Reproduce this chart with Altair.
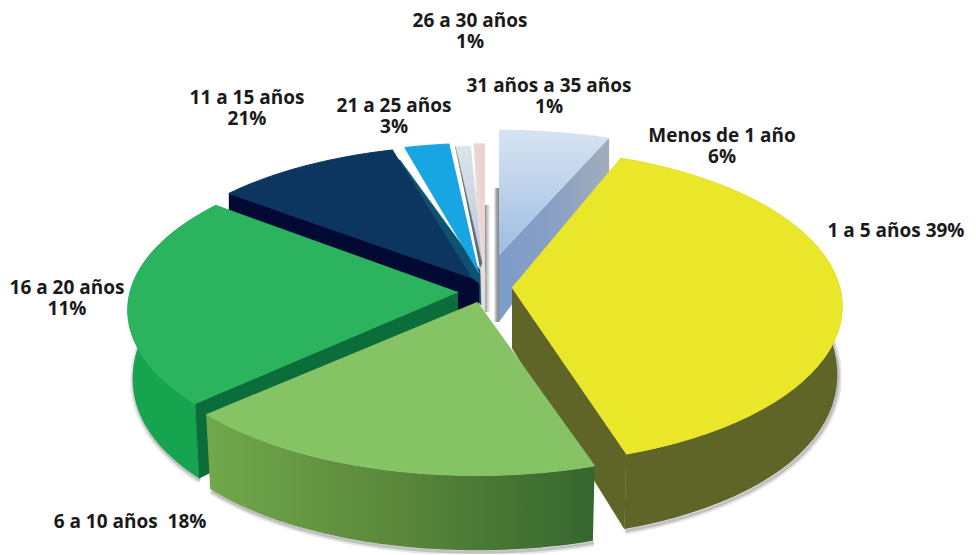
import math
import altair as alt
import pandas as pd

# Slice shares (the printed labels differ)
slices = ["Menos de 1 año", "1 a 5 años", "6 a 10 años", "16 a 20 años",
          "11 a 15 años", "21 a 25 años", "26 a 30 años", "31 a 35 años"]
shares = [6, 39, 18.2, 22.3, 10.2, 2.6, 1.0, 0.7]

# Label text, as printed
label_text = ["26 a 30 años|1%", "31 años a 35 años|1%", "21 a 25 años|3%", "11 a 15 años|21%",
              "Menos de 1 año|6%", "1 a 5 años 39%", "16 a 20 años|11%", "6 a 10 años\u00a0\u00a018%"]
label_x = [470, 549, 394, 247, 722, 896, 67, 130]
label_y = [21, 86, 106, 98, 136, 231, 288, 522]

# Apparent apex and radii of each exploded slice in the perspective view
geom = {
    "Menos de 1 año": (499, 255, 332, 140),
    "1 a 5 años": (512, 288, 328, 155),
    "6 a 10 años": (477, 302, 338, 153),
    "16 a 20 años": (458, 292, 328, 152),
    "11 a 15 años": (472, 278, 330, 148),
    "21 a 25 años": (479, 273, 310, 145),
    "26 a 30 años": (482, 263, 280, 131),
    "31 a 35 años": (485, 277, 280, 149),
}
K = 0.118

edges = [0]
for s in shares:
    edges.append(edges[-1] + s * 3.6)
span = {n: (edges[i], edges[i + 1]) for i, n in enumerate(slices)}


def depth(v):
    return 66 + 21.5 * v - 12.7 * v * v


def top(name, ang):
    ax, ay, r, ry = geom[name]
    u, v = math.sin(math.radians(ang)), -math.cos(math.radians(ang))
    s = 1 / (1 - K * v)
    return ax + r * u * s, ay + ry * v * s


def low(name, ang):
    ax, ay, r, ry = geom[name]
    v = -math.cos(math.radians(ang))
    x, y = top(name, ang)
    return ax + (x - ax) * 0.985, y + depth(v)


def arc(name, fn=top, n=48):
    a, b = span[name]
    return [fn(name, a + (b - a) * i / n) for i in range(n + 1)]


X = alt.Scale(domain=[8, 968])
Y = alt.Scale(domain=[554, 8])


def poly(points, fill, **kw):
    df = pd.DataFrame({"x": [p[0] for p in points], "y": [p[1] for p in points],
                       "i": list(range(len(points)))})
    return alt.Chart(df).mark_line(fill=fill, stroke=kw.pop("stroke", fill if isinstance(fill, str) else "transparent"),
                                   strokeWidth=kw.pop("sw", 0.5), **kw).encode(
        x=alt.X("x:Q", scale=X, axis=None), y=alt.Y("y:Q", scale=Y, axis=None), order="i:Q")


def trace(points, color, width, opacity):
    df = pd.DataFrame({"x": [p[0] for p in points], "y": [p[1] for p in points],
                       "i": list(range(len(points)))})
    return alt.Chart(df).mark_line(stroke=color, strokeWidth=width, opacity=opacity).encode(
        x=alt.X("x:Q", scale=X, axis=None), y=alt.Y("y:Q", scale=Y, axis=None), order="i:Q")


def hgrad(*stops):
    n = len(stops) - 1
    return alt.Gradient(gradient="linear", x1=0, x2=1, y1=0, y2=0,
                        stops=[alt.GradientStop(offset=i / n, color=c) for i, c in enumerate(stops)])


def vgrad(*stops):
    n = len(stops) - 1
    return alt.Gradient(gradient="linear", x1=0, x2=0, y1=0, y2=1,
                        stops=[alt.GradientStop(offset=i / n, color=c) for i, c in enumerate(stops)])


def face(name, fill):
    ax, ay = geom[name][:2]
    return poly([(ax, ay)] + arc(name), fill, sw=1.0)


def wall(name, fill, start=0.0):
    pts = arc(name)
    lows = arc(name, low)
    return poly(pts + lows[::-1], fill, stroke="transparent")


def cut(name, ang, fill):
    ax, ay = geom[name][:2]
    a, b = top(name, ang), low(name, ang)
    return poly([(ax, ay), a, b, (ax, ay + 60)], fill)


N = slices
layers = []

# soft shadows beneath the outer walls
for name in (N[1], N[2], N[3]):
    pts = [(x + 1, y + 2) for x, y in arc(name, low)]
    layers.append(trace(pts, "#777777", 7, 0.18))
    layers.append(trace(pts, "#555555", 3, 0.25))

# thin slivers in the gap behind the slices
layers.append(poly([(485, 205), (490, 205), (491, 312), (485, 312)], hgrad("#8f8f8f", "#d8d8d8", "#ffffff")))
layers.append(poly([(494, 188), (499, 188), (499, 322), (494, 322)], hgrad("#f4f4f4", "#a8a8a8", "#808080")))

# small back slices
layers.append(face(N[7], "#ecd4d3"))
layers.append(poly([top(N[7], span[N[7]][0]), (geom[N[7]][0], geom[N[7]][1]),
                    (geom[N[7]][0], 318), (481, 318)], "#e8dcdc"))
layers.append(face(N[6], vgrad("#dde4ea", "#bac8d6")))
layers.append(poly([top(N[6], span[N[6]][0]), (482, 263), (480, 268)], "#5f6b74"))

# navy slice: right cut, face and front cut
layers.append(poly([(400, 160), (480, 270), (481, 305), (472, 290), (392, 155)], "#0d5273"))
layers.append(face(N[5], "#18a6e2"))
c = top(N[4], span[N[4]][0])
layers.append(poly([c, (472, 278), (479, 284), (479, 320), (c[0], 240)], "#020a33"))
layers.append(face(N[4], "#0c3660"))

# light-blue slice
ax, ay = geom[N[0]][:2]
c = top(N[0], span[N[0]][1])
layers.append(poly([(ax, ay), c, (c[0], c[1] + 35), (ax, ay + 67)], hgrad("#7c9ccb", "#8aa0c4", "#a1adbc")))
layers.append(face(N[0], vgrad("#d6e3f3", "#bcd1ea", "#9cbce1")))

# yellow slice
layers.append(wall(N[1], "#5f6427"))
layers.append(cut(N[1], span[N[1]][1], "#5f6427"))
layers.append(face(N[1], "#eae72a"))

# green slice
layers.append(wall(N[3], "#17a44f"))
layers.append(cut(N[3], span[N[3]][0], "#0b6d3a"))
layers.append(face(N[3], "#2bb35d"))

# light green slice
layers.append(wall(N[2], hgrad("#71a84b", "#5a873b", "#35662f")))
layers.append(face(N[2], "#86c365"))

# labels
ldf = pd.DataFrame({"t": [t.split("|") for t in label_text], "x": label_x, "y": label_y})
layers.append(alt.Chart(ldf).mark_text(font="Open Sans", fontWeight="bold", fontSize=19, lineHeight=21,
                                       align="center", baseline="middle", color="#1a1a1a").encode(
    x=alt.X("x:Q", scale=X, axis=None), y=alt.Y("y:Q", scale=Y, axis=None), text="t"))

chart = alt.layer(*layers).properties(
    width=960, height=546, padding=0, autosize=alt.AutoSizeParams(type="none"),
    background="white").configure_view(stroke=None)

chart.save("out.html", embed_options={"renderer": "svg", "actions": False})
